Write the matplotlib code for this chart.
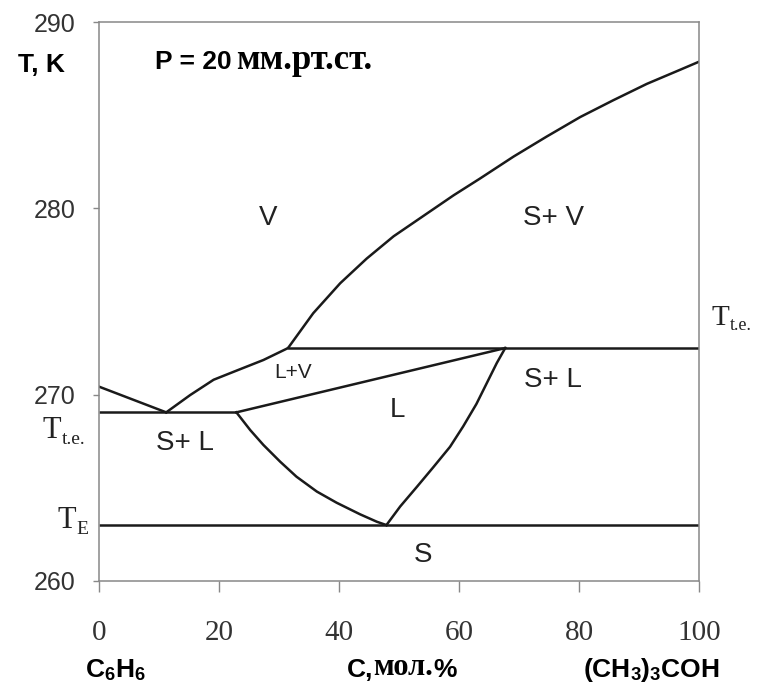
import matplotlib.pyplot as plt

plt.rcParams['mathtext.fontset'] = 'custom'
plt.rcParams['mathtext.rm'] = 'Liberation Serif'
plt.rcParams['mathtext.it'] = 'Liberation Serif:italic'
plt.rcParams['mathtext.bf'] = 'Liberation Sans:bold'

# --- данные ---
T_E = 263.0          # эвтектика
T_te_low = 269.05    # нижняя тройная точка
T_te_high = 272.5    # верхняя тройная точка

# ликвидус бензола
left_liq_x = [0, 11.2]
left_liq_T = [270.43, 269.05]

# граница L / L+V
lv_x = [11.2, 15.2, 19.1, 23.0, 27.4, 31.5]
lv_T = [269.05, 269.98, 270.8, 271.3, 271.86, 272.5]

# граница V / S+V
vap_x = [31.5, 35.7, 40.2, 44.6, 49.1, 54.1, 59.1, 63.5, 69.1, 74.6,
         80.2, 85.7, 91.3, 96.8, 100]
vap_T = [272.5, 274.37, 275.98, 277.3, 278.5, 279.6, 280.7, 281.6, 282.78,
         283.85, 284.9, 285.8, 286.68, 287.43, 287.87]

# граница L+V / L
liq_top_x = [22.9, 67.7]
liq_top_T = [269.05, 272.5]

# левая ветвь солидуса
sol_left_x = [22.9, 25.2, 27.4, 30.2, 32.9, 36.3, 39.6, 43.5, 46.3, 47.9]
sol_left_T = [269.05, 268.1, 267.3, 266.4, 265.6, 264.8, 264.2, 263.58,
              263.18, 263.0]

# правая ветвь солидуса
sol_right_x = [47.9, 50.2, 53.0, 55.7, 58.5, 60.7, 62.9, 64.6, 66.3, 67.7]
sol_right_T = [263.0, 264.0, 265.06, 266.1, 267.2, 268.3, 269.5, 270.6,
               271.7, 272.5]

x_ticks = [0, 20, 40, 60, 80, 100]
y_ticks = [260, 270, 280, 290]

fig = plt.figure(figsize=(7.57, 6.86), dpi=100)
ax = fig.add_axes([0.1308, 0.1531, 0.7926, 0.8148])

kw = dict(color='#1a1a1a', lw=1.8)
ax.plot(left_liq_x, left_liq_T, **kw)
ax.plot(lv_x, lv_T, **kw)
ax.plot(vap_x, vap_T, **kw)
ax.plot(liq_top_x, liq_top_T, **kw)
ax.plot(sol_left_x, sol_left_T, **kw)
ax.plot(sol_right_x, sol_right_T, **kw)
ax.hlines(T_E, 0, 100, **kw)
ax.hlines(T_te_low, 0, liq_top_x[0], **kw)
ax.hlines(T_te_high, vap_x[0], 100, **kw)

ax.set_xlim(0, 100)
ax.set_ylim(260, 290)

# рамка и деления
for s in ax.spines.values():
    s.set_color('#888888')
    s.set_linewidth(1.1)
ax.set_xticks(x_ticks)
ax.set_yticks(y_ticks)
ax.tick_params(axis='x', direction='out', length=8, width=1, color='#888888',
               pad=20, labelsize=21)
ax.tick_params(axis='y', direction='out', length=4, width=1, color='#888888',
               pad=13, labelsize=18)
for lab in ax.get_xticklabels():
    lab.set_fontfamily('Liberation Serif')
    lab.set_color('#333333')
for lab in ax.get_yticklabels():
    lab.set_fontfamily('Liberation Sans')
    lab.set_color('#333333')

# подписи областей
sans = dict(family='Liberation Sans', color='#222222', ha='center', va='center')
ax.text(28.2, 279.5, 'V', fontsize=20, **sans)
ax.text(75.7, 279.5, 'S+ V', fontsize=20, **sans)
ax.text(32.3, 271.2, 'L+V', fontsize=15, **sans)
ax.text(49.7, 269.2, 'L', fontsize=20, **sans)
ax.text(75.7, 270.8, 'S+ L', fontsize=20, **sans)
ax.text(14.3, 267.4, 'S+ L', fontsize=20, **sans)
ax.text(54, 261.4, 'S', fontsize=20, **sans)

# давление
p = ax.text(0.093, 0.928, 'P = 20 ', transform=ax.transAxes, fontsize=19,
            family='Liberation Sans', weight='bold', va='center', ha='left')
ax.annotate('мм.рт.ст.', xy=(1, 0), xycoords=p, fontsize=25,
            family='Liberation Serif', weight='bold', va='bottom', ha='left',
            xytext=(-2, -2), textcoords='offset points')


def temp_label(x, y, sub, size, subsize):
    """буква T с подстрочным индексом, координаты в долях рисунка"""
    t = fig.text(x, y, 'T', fontsize=size, family='Liberation Serif',
                 color='#222222', ha='left', va='baseline')
    ax.annotate(sub, xy=(1, 0), xycoords=t, xytext=(0.5, -2),
                textcoords='offset points', fontsize=subsize,
                family='Liberation Serif', color='#222222',
                ha='left', va='bottom')


# подписи снаружи осей
fig.text(0.055, 0.905, 'T, K', fontsize=19, family='Liberation Sans',
         weight='bold', ha='center', va='center')
temp_label(0.056, 0.3615, 't.e.', 22, 14)
temp_label(0.0753, 0.2303, 'E', 22, 14)
temp_label(0.940, 0.526, 't.e.', 21, 13)

fig.text(0.152, 0.0131, r'$\mathbf{C}_{\mathbf{6}}\mathbf{H}_{\mathbf{6}}$',
         fontsize=19, ha='center', va='baseline')
c = fig.text(0.458, 0.0131, 'С,', fontsize=19, family='Liberation Sans',
             weight='bold', ha='left', va='baseline')
m = ax.annotate('мол.', xy=(1, 0), xycoords=c, fontsize=22,
                family='Liberation Serif', weight='bold', va='bottom', ha='left')
ax.annotate('%', xy=(1, 0), xycoords=m, fontsize=19,
            family='Liberation Sans', weight='bold', va='bottom', ha='left')
fig.text(0.861, 0.0131,
         r'$\mathbf{(CH}_{\mathbf{3}}\mathbf{)}_{\mathbf{3}}\mathbf{COH}$',
         fontsize=19, ha='center', va='baseline')

fig.savefig('out.png', dpi=100, facecolor='white')
